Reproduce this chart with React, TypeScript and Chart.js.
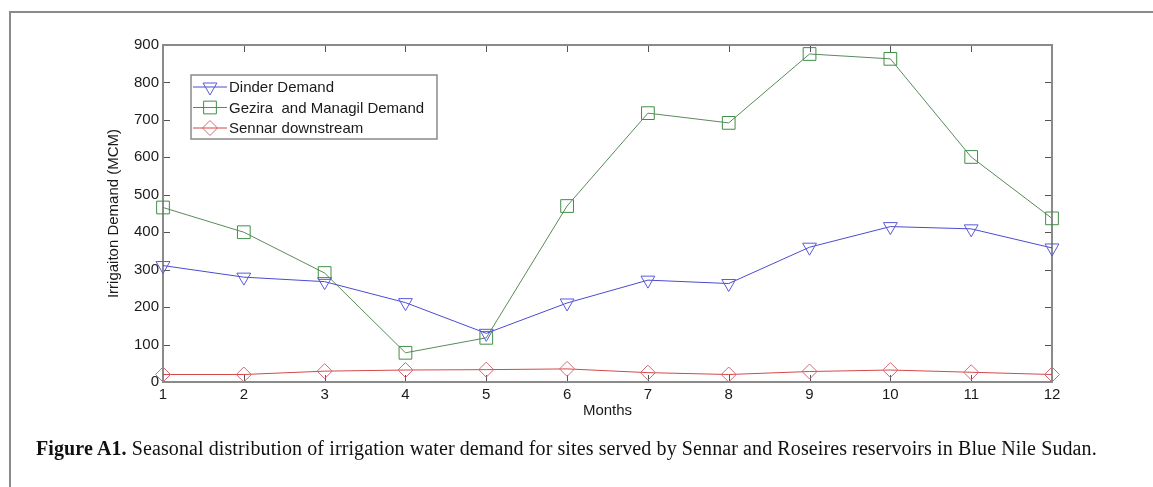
import React, { useEffect, useRef } from "react";
import { Chart, registerables } from "chart.js";

Chart.register(...registerables);

// ---- data ----
const months = ["1", "2", "3", "4", "5", "6", "7", "8", "9", "10", "11", "12"];
const dinderDemand = [311, 280, 268, 212, 130, 211, 272, 263, 360, 415, 409, 358];
const geziraDemand = [466, 400, 291, 78, 118, 470, 718, 692, 876, 863, 601, 437];
const sennarDownstream = [20, 20, 29, 32, 33, 35, 25, 20, 28, 32, 26, 20];
const seriesLabels = ["Dinder Demand", "Gezira  and Managil Demand", "Sennar downstream"];
const yTickValues = [0, 100, 200, 300, 400, 500, 600, 700, 800, 900];

const SANS = "'Liberation Sans', Arial, Helvetica, sans-serif";
const AXIS_GRAY = "#8a8a8a";
const TEXT = "#1a1a1a";

function markerPath(ctx: CanvasRenderingContext2D, style: string, x: number, y: number, r: number) {
  ctx.beginPath();
  if (style === "triangleDown") {
    const w = r * Math.sin(Math.PI / 3);
    ctx.moveTo(x, y + r);
    ctx.lineTo(x - w, y - r / 2);
    ctx.lineTo(x + w, y - r / 2);
    ctx.closePath();
  } else if (style === "rect") {
    const s = r * Math.SQRT1_2;
    ctx.rect(x - s, y - s, 2 * s, 2 * s);
  } else {
    ctx.moveTo(x, y - r);
    ctx.lineTo(x + r, y);
    ctx.lineTo(x, y + r);
    ctx.lineTo(x - r, y);
    ctx.closePath();
  }
}

const axesBoxPlugin = {
  id: "axesBox",
  beforeDatasetsDraw(chart: any) {
    const { ctx, chartArea: a, scales } = chart;
    const xs = scales.x;
    const ys = scales.y;
    const L = 7;
    ctx.save();
    ctx.strokeStyle = "#555555";
    ctx.lineWidth = 1;
    ctx.beginPath();
    xs.ticks.forEach((_t: any, i: number) => {
      const px = Math.round(xs.getPixelForTick(i)) + 0.5;
      ctx.moveTo(px, a.bottom);
      ctx.lineTo(px, a.bottom - L);
      ctx.moveTo(px, a.top);
      ctx.lineTo(px, a.top + L);
    });
    ys.ticks.forEach((_t: any, i: number) => {
      const py = Math.round(ys.getPixelForTick(i)) + 0.5;
      ctx.moveTo(a.left, py);
      ctx.lineTo(a.left + L, py);
      ctx.moveTo(a.right, py);
      ctx.lineTo(a.right - L, py);
    });
    ctx.stroke();
    ctx.strokeStyle = AXIS_GRAY;
    ctx.lineWidth = 2;
    ctx.strokeRect(a.left, a.top, a.right - a.left, a.bottom - a.top);
    ctx.restore();
  },
};

const legendBoxPlugin = {
  id: "legendBox",
  afterDatasetsDraw(chart: any) {
    const { ctx, chartArea: a } = chart;
    const bx = a.left + 28;
    const by = a.top + 30;
    const bw = 246;
    const bh = 64;
    ctx.save();
    ctx.fillStyle = "#ffffff";
    ctx.fillRect(bx, by, bw, bh);
    ctx.strokeStyle = AXIS_GRAY;
    ctx.lineWidth = 1.5;
    ctx.strokeRect(bx, by, bw, bh);
    ctx.font = `15px ${SANS}`;
    ctx.textBaseline = "middle";
    ctx.textAlign = "left";
    chart.data.datasets.forEach((ds: any, i: number) => {
      const yy = by + 12 + i * 20.5;
      ctx.strokeStyle = ds.borderColor;
      ctx.lineWidth = 1;
      ctx.beginPath();
      ctx.moveTo(bx + 2, yy);
      ctx.lineTo(bx + 36, yy);
      ctx.stroke();
      ctx.strokeStyle = ds.pointBorderColor;
      markerPath(ctx, ds.markerKind, bx + 19, yy, ds.pointRadius);
      ctx.stroke();
      ctx.fillStyle = TEXT;
      ctx.fillText(ds.label, bx + 38, yy + 1);
    });
    ctx.restore();
  },
};

export default function App() {
  const canvasRef = useRef<HTMLCanvasElement | null>(null);

  useEffect(() => {
    if (!canvasRef.current) return;
    const chart = new Chart(canvasRef.current, {
      type: "line",
      data: {
        labels: months,
        datasets: [
          {
            label: seriesLabels[0],
            data: dinderDemand,
            borderColor: "#4b4bd2",
            borderWidth: 1,
            pointStyle: "triangle",
            pointRotation: 180,
            pointRadius: 8,
            pointBorderColor: "#5a5ad8",
            pointBackgroundColor: "rgba(0,0,0,0)",
            pointBorderWidth: 1,
            tension: 0,
            markerKind: "triangleDown",
          } as any,
          {
            label: seriesLabels[1],
            data: geziraDemand,
            borderColor: "#5a8a5a",
            borderWidth: 1,
            pointStyle: "rect",
            pointRadius: 9,
            pointBorderColor: "#3f8f47",
            pointBackgroundColor: "rgba(0,0,0,0)",
            pointBorderWidth: 1,
            tension: 0,
            markerKind: "rect",
          } as any,
          {
            label: seriesLabels[2],
            data: sennarDownstream,
            borderColor: "#d44848",
            borderWidth: 1,
            pointStyle: "rectRot",
            pointRadius: 7.5,
            pointBorderColor: "#d46a78",
            pointBackgroundColor: "rgba(0,0,0,0)",
            pointBorderWidth: 1,
            tension: 0,
            markerKind: "diamond",
          } as any,
        ],
      },
      options: {
        animation: false,
        responsive: false,
        maintainAspectRatio: false,
        layout: { padding: { left: 105, top: 45, right: 101, bottom: 67 } },
        plugins: {
          legend: { display: false },
          tooltip: { enabled: false },
        },
        scales: {
          x: {
            type: "category",
            offset: false,
            grid: { display: false, drawTicks: false },
            border: { display: false },
            ticks: {
              padding: 4,
              color: TEXT,
              autoSkip: false,
              maxRotation: 0,
              font: { family: SANS, size: 15 },
            },
            title: {
              display: true,
              text: "Months",
              color: TEXT,
              padding: 0,
              font: { family: SANS, size: 15 },
            },
            afterFit: (s: any) => {
              s.height = 38;
            },
          },
          y: {
            min: 0,
            max: 900,
            afterBuildTicks: (s: any) => {
              s.ticks = yTickValues.map((v) => ({ value: v }));
            },
            grid: { display: false, drawTicks: false },
            border: { display: false },
            ticks: {
              padding: 4,
              color: TEXT,
              font: { family: SANS, size: 15 },
            },
            title: {
              display: true,
              text: "Irrigaiton Demand (MCM)",
              color: TEXT,
              padding: 0,
              font: { family: SANS, size: 15 },
            },
            afterFit: (s: any) => {
              s.width = 58;
            },
          },
        },
      },
      plugins: [axesBoxPlugin, legendBoxPlugin],
    });
    return () => chart.destroy();
  }, []);

  return (
    <div
      style={{
        position: "absolute",
        left: 0,
        top: 0,
        width: 1153,
        height: 487,
        overflow: "hidden",
        background: "#ffffff",
      }}
    >
      <div
        style={{
          position: "absolute",
          left: 9,
          top: 11,
          width: 1300,
          height: 700,
          borderLeft: "2px solid #8a8a8a",
          borderTop: "2px solid #8a8a8a",
        }}
      />
      <canvas
        ref={canvasRef}
        width={1153}
        height={487}
        style={{ position: "absolute", left: 0, top: 0, display: "block" }}
      />
      <div
        style={{
          position: "absolute",
          left: 36,
          top: 437,
          whiteSpace: "nowrap",
          fontFamily: "'Liberation Serif', 'Times New Roman', serif",
          fontSize: 20,
          letterSpacing: 0.1,
          color: "#111111",
        }}
      >
        <b>Figure A1.</b> Seasonal distribution of irrigation water demand for sites served by Sennar and
        Roseires reservoirs in Blue Nile Sudan.
      </div>
    </div>
  );
}
